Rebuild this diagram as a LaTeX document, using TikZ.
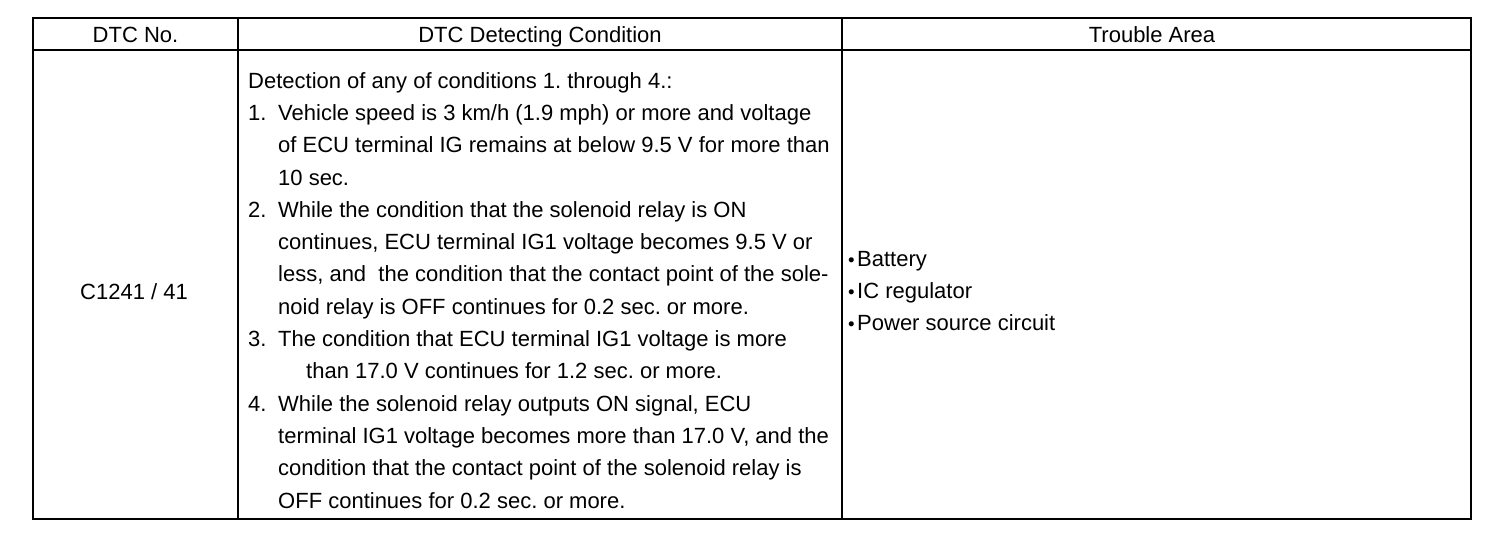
\documentclass[tikz,border=0pt]{standalone}
\usepackage{fontspec}
\setmainfont{Liberation Sans}
\frenchspacing
\begin{document}
\begin{tikzpicture}[x=1pt,y=-1pt,
  cell/.style={inner sep=0pt,anchor=base,font=\fontsize{22}{32.3}\selectfont},
  body/.style={inner sep=0pt,anchor=north west,align=left,font=\fontsize{22}{32.3}\selectfont},
  frame/.style={line width=2pt},
  grid/.style={line width=1.5pt}]
\useasboundingbox (0,0) rectangle (1504,542);
\coordinate (tl) at (33,18);
\coordinate (br) at (1471,519);
\draw[frame] (tl) rectangle (br);
\draw[grid] (33,50) -- (1471,50);
\draw[grid] (238,18) -- (238,519);
\draw[grid] (842,18) -- (842,519);
\node[cell] (h1) at (135.5,42) {DTC No.};
\node[cell] (h2) at (540,42) {DTC Detecting Condition};
\node[cell] (h3) at (1152,42) {Trouble Area};
\node[cell] (c1) at (134,299) {C1241 / 41};
\node[body] (c2) at (248,72) {%
Detection of any of conditions 1. through 4.:\\
\makebox[30pt][l]{1.}Vehicle speed is 3 km/h (1.9 mph) or more and voltage\\
\hspace*{30pt}of ECU terminal IG remains at below 9.5 V for more than\\
\hspace*{30pt}10 sec.\\
\makebox[30pt][l]{2.}While the condition that the solenoid relay is ON\\
\hspace*{30pt}continues, ECU terminal IG1 voltage becomes 9.5 V or\\
\hspace*{30pt}less, and\ \ the condition that the contact point of the sole-\\
\hspace*{30pt}noid relay is OFF continues for 0.2 sec. or more.\\
\makebox[30pt][l]{3.}The condition that ECU terminal IG1 voltage is more\\
\hspace*{58pt}than 17.0 V continues for 1.2 sec. or more.\\
\makebox[30pt][l]{4.}While the solenoid relay outputs ON signal, ECU\\
\hspace*{30pt}terminal IG1 voltage becomes more than 17.0 V, and the\\
\hspace*{30pt}condition that the contact point of the solenoid relay is\\
\hspace*{30pt}OFF continues for 0.2 sec. or more.};
\node[body] (c3) at (848,251) {%
\makebox[9pt][l]{\scalebox{0.85}{\textbullet}}Battery\\
\makebox[9pt][l]{\scalebox{0.85}{\textbullet}}IC regulator\\
\makebox[9pt][l]{\scalebox{0.85}{\textbullet}}Power source circuit};
\end{tikzpicture}
\end{document}
